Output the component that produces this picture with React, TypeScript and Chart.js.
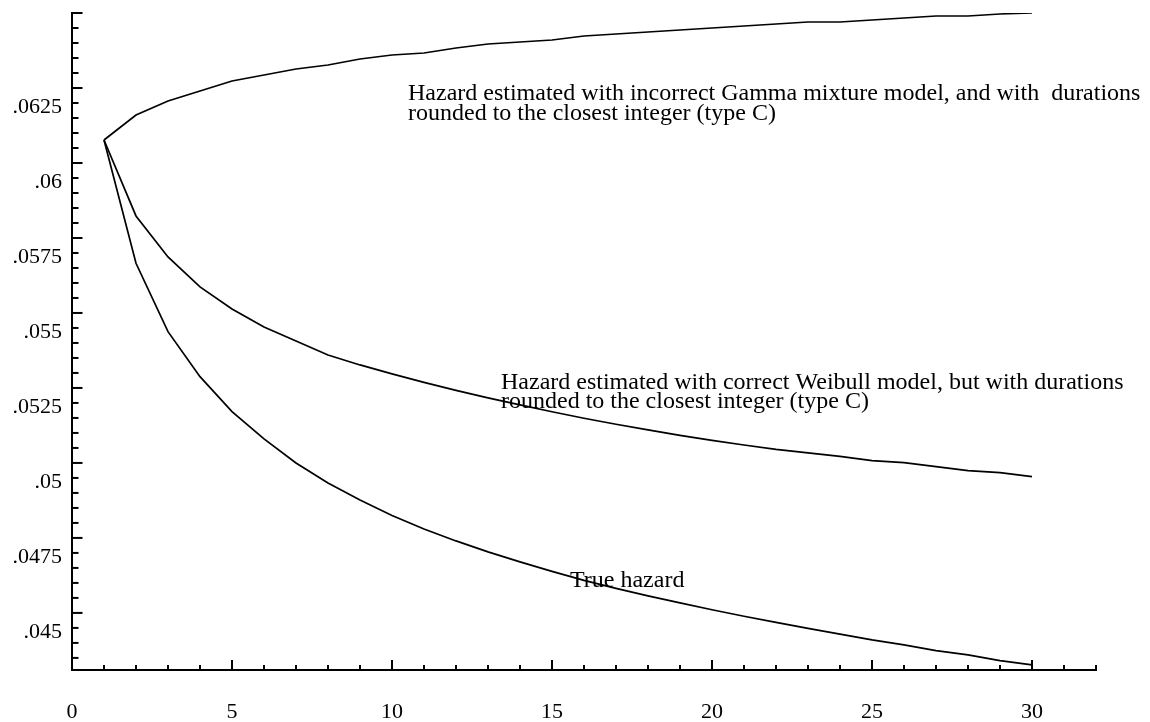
import React, { useEffect, useRef } from "react";
import { Chart, registerables } from "chart.js";

Chart.register(...registerables);

// Durations (x values)
const DURATIONS = [
  1, 2, 3, 4, 5, 6, 7, 8, 9, 10, 11, 12, 13, 14, 15, 16, 17, 18, 19, 20, 21, 22,
  23, 24, 25, 26, 27, 28, 29, 30,
];

// Hazard estimated with incorrect Gamma mixture model (type C)
const GAMMA_HAZARD = [
  0.0614, 0.062233, 0.0627, 0.063033, 0.063367, 0.063567, 0.063767, 0.0639,
  0.0641, 0.064233, 0.0643, 0.064467, 0.0646, 0.064667, 0.064733, 0.064867,
  0.064933, 0.065, 0.065067, 0.065133, 0.0652, 0.065267, 0.065333, 0.065333,
  0.0654, 0.065467, 0.065533, 0.065533, 0.0656, 0.065633,
];

// Hazard estimated with correct Weibull model (type C)
const WEIBULL_HAZARD = [
  0.0614, 0.058867, 0.0575, 0.0565, 0.055767, 0.055167, 0.0547, 0.054233,
  0.0539, 0.0536, 0.053317, 0.05305, 0.0528, 0.052567, 0.05234, 0.052123,
  0.051923, 0.051733, 0.051553, 0.051387, 0.05123, 0.051083, 0.050967, 0.05085,
  0.05071, 0.050643, 0.05051, 0.050377, 0.05031, 0.050177,
];

// True hazard
const TRUE_HAZARD = [
  0.0614, 0.05729, 0.05501, 0.05351, 0.052343, 0.051433, 0.050633, 0.049967,
  0.0494, 0.048883, 0.048433, 0.048033, 0.047667, 0.047333, 0.047017, 0.046717,
  0.04645, 0.0462, 0.045967, 0.04574, 0.045523, 0.045317, 0.045117, 0.044927,
  0.044733, 0.044567, 0.044377, 0.044233, 0.044043, 0.0439,
];

const X_TICKS = [0, 5, 10, 15, 20, 25, 30];
const Y_TICKS = [0.045, 0.0475, 0.05, 0.0525, 0.055, 0.0575, 0.06, 0.0625];

const X_MIN = 0;
const X_MAX = 32;
const Y_MIN = 0.04373;
const Y_MAX = 0.065633;
const X_MINOR_STEP = 1;
const Y_MINOR_STEP = 0.0005;

// Text annotations: left edge (x, duration units) and baseline (y, hazard units)
const ANNOTATIONS = [
  { x: 10.5, y: 0.062733, text: "Hazard estimated with incorrect Gamma mixture model, and with  durations" },
  { x: 10.5, y: 0.062067, text: "rounded to the closest integer (type C)" },
  { x: 13.406, y: 0.0531, text: "Hazard estimated with correct Weibull model, but with durations" },
  { x: 13.406, y: 0.052467, text: "rounded to the closest integer (type C)" },
  { x: 15.5625, y: 0.0465, text: "True hazard" },
];

const FONT_FAMILY = "'Liberation Serif', 'Times New Roman', serif";

const inwardTicks = {
  id: "inwardTicks",
  afterDraw(chart: any) {
    const { ctx, chartArea } = chart;
    const xs = chart.scales.x;
    const ys = chart.scales.y;
    ctx.save();
    ctx.strokeStyle = "#000";
    ctx.lineWidth = 2;
    ctx.lineCap = "butt";
    // x-axis ticks (pointing up)
    for (let k = 1; X_MIN + k * X_MINOR_STEP <= X_MAX + 1e-9; k++) {
      const t = X_MIN + k * X_MINOR_STEP;
      const px = xs.getPixelForValue(t);
      const len = k % 5 === 0 ? 10 : 5;
      ctx.beginPath();
      ctx.moveTo(px, chartArea.bottom);
      ctx.lineTo(px, chartArea.bottom - len);
      ctx.stroke();
    }
    // y-axis ticks (pointing right), laid out from the top of the axis
    for (let k = 0; Y_MAX - k * Y_MINOR_STEP >= Y_MIN; k++) {
      const v = Y_MAX - k * Y_MINOR_STEP;
      const py = ys.getPixelForValue(v);
      const len = k % 5 === 0 ? 10.5 : 6.5;
      ctx.beginPath();
      ctx.moveTo(chartArea.left, py);
      ctx.lineTo(chartArea.left + len, py);
      ctx.stroke();
    }
    // annotations
    ctx.fillStyle = "#000";
    ctx.font = `24px ${FONT_FAMILY}`;
    ctx.textAlign = "left";
    ctx.textBaseline = "alphabetic";
    for (const a of ANNOTATIONS) {
      ctx.fillText(a.text, xs.getPixelForValue(a.x), ys.getPixelForValue(a.y));
    }
    ctx.restore();
  },
};

export default function App() {
  const canvasRef = useRef<HTMLCanvasElement | null>(null);

  useEffect(() => {
    if (!canvasRef.current) return;
    const mk = (data: number[]) => ({
      data: DURATIONS.map((d, i) => ({ x: d, y: data[i] })),
      borderColor: "#000",
      borderWidth: 1.7,
      pointRadius: 0,
      fill: false,
      tension: 0,
    });
    const chart = new Chart(canvasRef.current, {
      type: "line",
      data: {
        datasets: [
          { label: "Gamma", ...mk(GAMMA_HAZARD) },
          { label: "Weibull", ...mk(WEIBULL_HAZARD) },
          { label: "True hazard", ...mk(TRUE_HAZARD) },
        ],
      },
      options: {
        animation: false,
        responsive: false,
        devicePixelRatio: 1,
        layout: { padding: { left: 0, top: 13, right: 54, bottom: 0 } },
        plugins: {
          legend: { display: false },
          tooltip: { enabled: false },
          title: { display: false },
        },
        scales: {
          x: {
            type: "linear",
            min: X_MIN,
            max: X_MAX,
            grid: { display: false, drawTicks: false },
            border: { display: true, color: "#000", width: 2 },
            ticks: {
              color: "#000",
              font: { family: FONT_FAMILY, size: 22 },
              padding: 29,
              maxRotation: 0,
              autoSkip: false,
              callback: (v: any) => String(v),
            },
            afterBuildTicks: (s: any) => {
              s.ticks = X_TICKS.map((v) => ({ value: v }));
            },
            afterFit: (s: any) => {
              s.height = 52;
              s.paddingLeft = 0;
              s.paddingRight = 0;
            },
          },
          y: {
            type: "linear",
            min: Y_MIN,
            max: Y_MAX,
            grid: { display: false, drawTicks: false },
            border: { display: true, color: "#000", width: 2 },
            ticks: {
              color: "#000",
              font: { family: FONT_FAMILY, size: 22 },
              padding: 10,
              autoSkip: false,
              callback: (v: any) => String(v).replace(/^0/, ""),
            },
            afterBuildTicks: (s: any) => {
              s.ticks = Y_TICKS.map((v) => ({ value: v }));
            },
            afterFit: (s: any) => {
              s.width = 72;
              s.paddingTop = 0;
              s.paddingBottom = 0;
            },
          },
        },
      },
      plugins: [inwardTicks],
    });
    return () => chart.destroy();
  }, []);

  return (
    <div
      style={{
        position: "fixed",
        left: 0,
        top: 0,
        width: 1150,
        height: 722,
        background: "#fff",
      }}
    >
      <canvas
        ref={canvasRef}
        width={1150}
        height={722}
        style={{ width: 1150, height: 722, display: "block" }}
      />
    </div>
  );
}
